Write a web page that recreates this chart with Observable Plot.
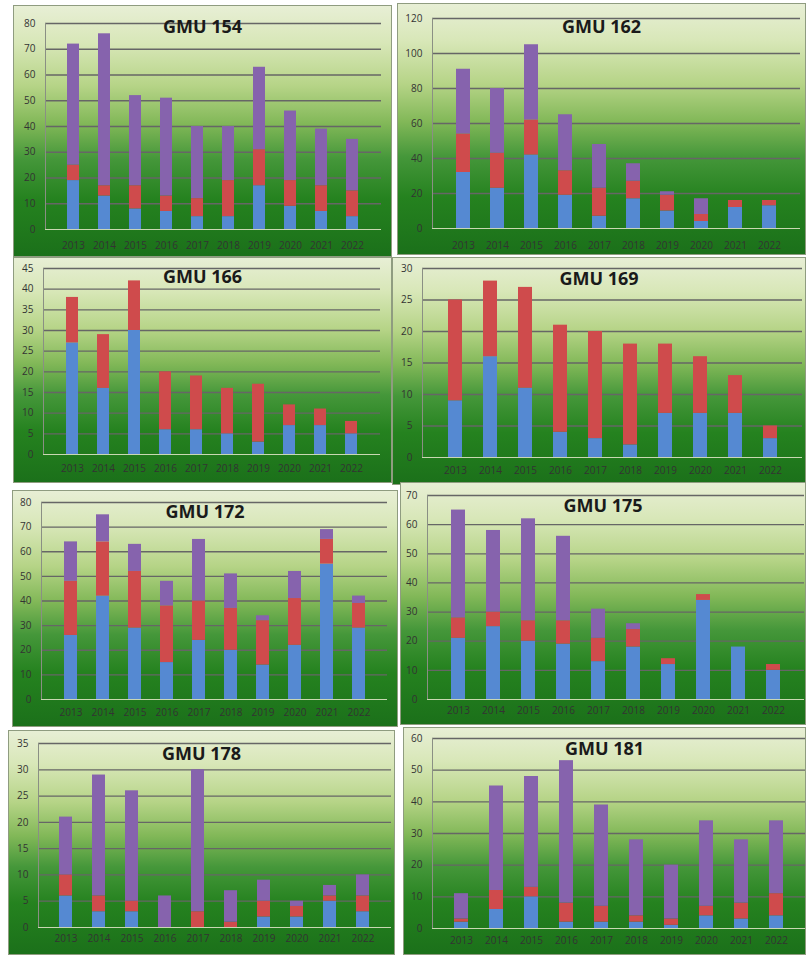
<!DOCTYPE html>
<html>
<head>
<meta charset="utf-8">
<script src="https://cdn.jsdelivr.net/npm/d3@7"></script>
<script src="https://cdn.jsdelivr.net/npm/@observablehq/plot@0.6"></script>
<style>
  html, body { margin: 0; padding: 0; background: #ffffff; }
  #page { position: relative; width: 806px; height: 955px; overflow: hidden; background: #fff; }
  .panel {
    position: absolute;
    background: linear-gradient(to bottom, #e8efd6 0%, #d8e7b8 15%, #b6d487 32%, #82b858 47%, #45973a 61%, #25821f 77%, #1b701a 100%);
    box-shadow: inset 0 0 0 1px #8f9c80;
  }
  .panel svg { position: absolute; left: 0; top: 0; }
  .title {
    position: absolute; left: 0; right: 0; text-align: center;
    font-family: "Open Sans", sans-serif; font-weight: 700; font-size: 18px; line-height: 18px;
    color: #1a1a1a;
  }
</style>
</head>
<body>
<div id="page"></div>
<script>
// ---- data ----
const years = ["2013", "2014", "2015", "2016", "2017", "2018", "2019", "2020", "2021", "2022"];
const seriesNames = ["Series 1", "Series 2", "Series 3"];
const seriesColors = ["#5589d2", "#cf4b4c", "#8663ad"];
const gmuTitles = ["GMU 154", "GMU 162", "GMU 166", "GMU 169", "GMU 172", "GMU 175", "GMU 178", "GMU 181"];

const blue154 = [19, 13, 8, 7, 5, 5, 17, 9, 7, 5];
const red154 = [6, 4, 9, 6, 7, 14, 14, 10, 10, 10];
const purple154 = [47, 59, 35, 38, 28, 21, 32, 27, 22, 20];
const ticks154 = [0, 10, 20, 30, 40, 50, 60, 70, 80];

const blue162 = [32, 23, 42, 19, 7, 17, 10, 4, 12, 13];
const red162 = [22, 20, 20, 14, 16, 10, 9, 4, 4, 3];
const purple162 = [37, 37, 43, 32, 25, 10, 2, 9, 0, 0];
const ticks162 = [0, 20, 40, 60, 80, 100, 120];

const blue166 = [27, 16, 30, 6, 6, 5, 3, 7, 7, 5];
const red166 = [11, 13, 12, 14, 13, 11, 14, 5, 4, 3];
const purple166 = [0, 0, 0, 0, 0, 0, 0, 0, 0, 0];
const ticks166 = [0, 5, 10, 15, 20, 25, 30, 35, 40, 45];

const blue169 = [9, 16, 11, 4, 3, 2, 7, 7, 7, 3];
const red169 = [16, 12, 16, 17, 17, 16, 11, 9, 6, 2];
const purple169 = [0, 0, 0, 0, 0, 0, 0, 0, 0, 0];
const ticks169 = [0, 5, 10, 15, 20, 25, 30];

const blue172 = [26, 42, 29, 15, 24, 20, 14, 22, 55, 29];
const red172 = [22, 22, 23, 23, 16, 17, 18, 19, 10, 10];
const purple172 = [16, 11, 11, 10, 25, 14, 2, 11, 4, 3];
const ticks172 = [0, 10, 20, 30, 40, 50, 60, 70, 80];

const blue175 = [21, 25, 20, 19, 13, 18, 12, 34, 18, 10];
const red175 = [7, 5, 7, 8, 8, 6, 2, 2, 0, 2];
const purple175 = [37, 28, 35, 29, 10, 2, 0, 0, 0, 0];
const ticks175 = [0, 10, 20, 30, 40, 50, 60, 70];

const blue178 = [6, 3, 3, 0, 0, 0, 2, 2, 5, 3];
const red178 = [4, 3, 2, 0, 3, 1, 3, 2, 1, 3];
const purple178 = [11, 23, 21, 6, 27, 6, 4, 1, 2, 4];
const ticks178 = [0, 5, 10, 15, 20, 25, 30, 35];

const blue181 = [2, 6, 10, 2, 2, 2, 1, 4, 3, 4];
const red181 = [1, 6, 3, 6, 5, 2, 2, 3, 5, 7];
const purple181 = [8, 33, 35, 45, 32, 24, 17, 27, 20, 23];
const ticks181 = [0, 10, 20, 30, 40, 50, 60];

// ---- layout (page pixels) ----
const layout = [
  {left: 13,  top: 5,   w: 379, h: 252, mL: 32, mR: 11, mT: 18, mB: 28, tBase: 28, xPad: 12},
  {left: 397, top: 3,   w: 409, h: 252, mL: 35, mR: 6,  mT: 15, mB: 27, tBase: 30, xPad: 13},
  {left: 13,  top: 257, w: 379, h: 226, mL: 30, mR: 12, mT: 11, mB: 29, tBase: 26, xPad: 10},
  {left: 392, top: 257, w: 414, h: 228, mL: 30, mR: 4,  mT: 11, mB: 28, tBase: 28, xPad: 9},
  {left: 12,  top: 490, w: 386, h: 237, mL: 29, mR: 11, mT: 12, mB: 28, tBase: 28, xPad: 9},
  {left: 400, top: 482, w: 406, h: 243, mL: 27, mR: 2,  mT: 13, mB: 26, tBase: 30, xPad: 7},
  {left: 8,   top: 730, w: 387, h: 225, mL: 30, mR: 4,  mT: 13, mB: 28, tBase: 30, xPad: 7},
  {left: 403, top: 727, w: 403, h: 228, mL: 29, mR: 1,  mT: 11, mB: 27, tBase: 28, xPad: 8}
];

const panelData = [
  [blue154, red154, purple154, ticks154],
  [blue162, red162, purple162, ticks162],
  [blue166, red166, purple166, ticks166],
  [blue169, red169, purple169, ticks169],
  [blue172, red172, purple172, ticks172],
  [blue175, red175, purple175, ticks175],
  [blue178, red178, purple178, ticks178],
  [blue181, red181, purple181, ticks181]
];

const page = document.getElementById("page");

panelData.forEach(([b, r, p, ticks], k) => {
  const L = layout[k];
  const rows = [];
  years.forEach((yr, i) => {
    rows.push({year: yr, series: seriesNames[0], value: b[i]});
    rows.push({year: yr, series: seriesNames[1], value: r[i]});
    rows.push({year: yr, series: seriesNames[2], value: p[i]});
  });
  const div = document.createElement("div");
  div.className = "panel";
  div.style.left = L.left + "px";
  div.style.top = L.top + "px";
  div.style.width = L.w + "px";
  div.style.height = L.h + "px";

  const chart = Plot.plot({
    width: L.w,
    height: L.h,
    marginLeft: L.mL,
    marginRight: L.mR,
    marginTop: L.mT,
    marginBottom: L.mB,
    style: {background: "transparent", fontFamily: "'Open Sans', sans-serif", fontSize: "10px", color: "#333333", overflow: "visible"},
    x: {domain: years, padding: 0.6, tickSize: 0, tickPadding: L.xPad, label: null},
    y: {domain: [0, ticks[ticks.length - 1]], ticks: ticks, tickSize: 0, tickPadding: 10, label: null},
    color: {domain: seriesNames, range: seriesColors},
    marks: [
      Plot.ruleY(ticks.slice(1), {stroke: "#666666", strokeWidth: 1.3}),
      Plot.frame({anchor: "left", stroke: "#8a8f84"}),
      Plot.barY(rows, {x: "year", y: "value", fill: "series"}),
      Plot.ruleY([0], {stroke: "#c9d8b2", strokeWidth: 1.2})
    ]
  });
  div.appendChild(chart);

  const t = document.createElement("div");
  t.className = "title";
  t.style.top = (L.tBase - 16) + "px";
  t.textContent = gmuTitles[k];
  div.appendChild(t);

  page.appendChild(div);
});
</script>
</body>
</html>
